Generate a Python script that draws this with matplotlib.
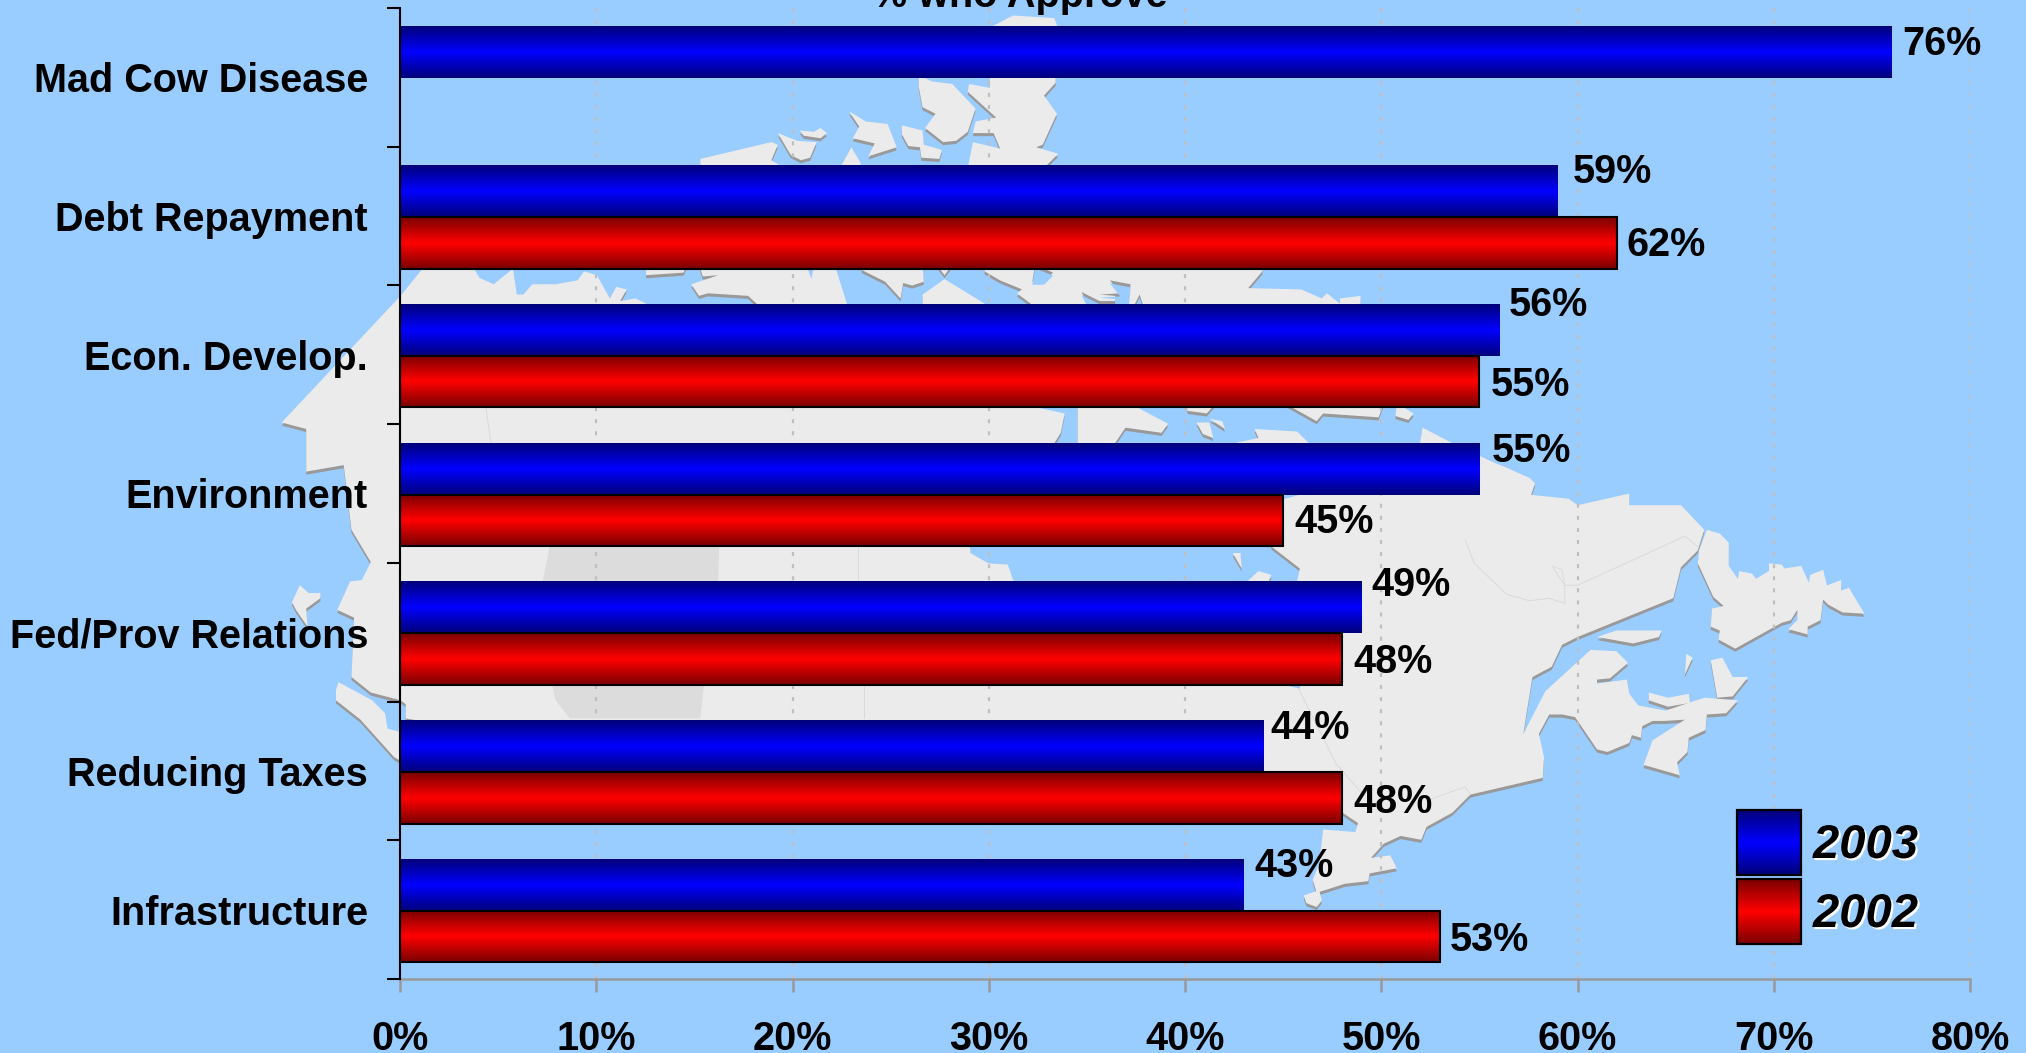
import matplotlib as mpl
mpl.use('Agg')
import matplotlib.pyplot as plt
import matplotlib.patheffects as pe
from matplotlib.colors import LinearSegmentedColormap
from matplotlib.patches import Polygon, Rectangle
import numpy as np

plt.rcParams['font.family'] = ['Liberation Sans', 'DejaVu Sans']
plt.rcParams['font.weight'] = 'bold'
plt.rcParams['lines.scale_dashes'] = False

categories = ['Mad Cow Disease', 'Debt Repayment', 'Econ. Develop.', 'Environment',
              'Fed/Prov Relations', 'Reducing Taxes', 'Infrastructure']
approve_2003 = [76, 59, 56, 55, 49, 44, 43]
approve_2002 = [np.nan, 62, 55, 45, 48, 48, 53]
x_ticks = [0, 10, 20, 30, 40, 50, 60, 70, 80]

# hand placed data labels, pixels from the bar end / bar centre
nudge_2003 = [(11, 9), (15, 19), (10, 25), (12, 18), (10, 23), (7, 18), (10, 19)]
nudge_2002 = [None, (10, -2), (11, -3), (11, -2), (11, -3), (11, -4), (10, -3)]

BG = '#99CCFF'
LAND = '#EBEBEB'
SHADOW = '#999999'

# background map, traced in a 1568 wide frame
mainland = [(310, 229), (327, 208), (367, 208), (371, 215), (382, 220), (397, 208), (400, 228), (405, 228),
            (412, 220), (430, 220), (447, 217), (452, 210), (462, 213), (472, 231), (477, 222), (485, 224),
            (480, 233), (492, 231), (502, 236), (502, 245), (790, 245), (801, 315), (824, 320), (821, 335),
            (816, 343), (790, 400), (750, 415), (751, 428), (765, 436), (780, 437), (784, 449), (900, 500),
            (989, 529), (1006, 533), (1004, 449), (1006, 440), (984, 423), (980, 390), (1090, 360), (1099, 343),
            (1101, 331), (1124, 343), (1154, 357), (1166, 362), (1184, 370), (1188, 374), (1185, 383), (1214, 386),
            (1221, 391), (1261, 382), (1261, 391), (1301, 391), (1319, 410), (1314, 426), (1301, 439), (1295, 463),
            (1221, 493), (1209, 499), (1201, 516), (1186, 524), (1181, 555), (1179, 568), (1196, 535), (1231, 503),
            (1251, 504), (1260, 513), (1246, 525), (1236, 526), (1236, 529), (1259, 526), (1261, 537), (1268, 546),
            (1289, 550), (1319, 540), (1345, 542), (1336, 552), (1321, 553), (1320, 565), (1307, 571), (1306, 582),
            (1298, 590), (1300, 600), (1272, 592), (1279, 573), (1304, 557), (1288, 558), (1279, 558), (1271, 562),
            (1270, 571), (1263, 569), (1261, 575), (1244, 582), (1236, 580), (1219, 555), (1209, 553), (1199, 553),
            (1191, 568), (1195, 586), (1194, 602), (1138, 615), (1124, 629), (1104, 640), (1100, 650), (1084, 647),
            (1071, 653), (1061, 664), (1076, 662), (1081, 672), (1060, 676), (1059, 682), (1041, 684), (1019, 691),
            (1016, 681), (1021, 668), (1024, 642), (1049, 644), (1051, 637), (1039, 629), (1000, 610), (800, 590),
            (500, 590), (314, 556), (314, 545), (310, 542), (287, 536), (272, 524), (274, 478), (261, 472),
            (271, 450), (280, 449), (287, 435), (272, 410), (266, 360), (237, 365), (237, 332), (218, 327)]
islands = [
    [(765, 22), (784, 12), (816, 14), (819, 22)],
    [(749, 71), (750, 65), (766, 68), (766, 58), (817, 58), (817, 64), (808, 74), (818, 88), (807, 112), (802, 114),
     (819, 119), (809, 129), (749, 130), (753, 110), (774, 115), (769, 103), (753, 103), (755, 94), (771, 91)],
    [(711, 58), (721, 63), (737, 65), (755, 84), (749, 102), (740, 109), (730, 110), (716, 99), (724, 88), (714, 83),
     (711, 67)],
    [(657, 86), (670, 94), (687, 96), (694, 114), (672, 121), (677, 111), (660, 107), (665, 98)],
    [(698, 97), (714, 101), (715, 112), (729, 116), (727, 123), (713, 122), (712, 114), (703, 113), (698, 104)],
    [(602, 103), (617, 109), (632, 110), (627, 122), (620, 124), (612, 120)],
    [(619, 101), (630, 102), (635, 99), (640, 103), (635, 107), (622, 105)],
    [(542, 123), (597, 110), (602, 112), (597, 124), (607, 130), (542, 130)],
    [(650, 130), (659, 114), (666, 126), (666, 130)],
    [(500, 205), (532, 205), (529, 211), (500, 213)],
    [(541, 205), (544, 214), (556, 213), (535, 220), (541, 229), (548, 227), (579, 229), (591, 240), (657, 240),
     (646, 205), (630, 205), (628, 216), (624, 205)],
    [(667, 205), (667, 209), (685, 218), (697, 231), (699, 219), (706, 221), (715, 218), (714, 205)],
    [(725, 205), (731, 213), (737, 205)],
    [(714, 240), (714, 228), (731, 216), (762, 235), (762, 240)],
    [(762, 205), (762, 210), (774, 217), (791, 224), (787, 227), (799, 236), (800, 240), (1053, 240), (1053, 229),
     (1037, 231), (1037, 235), (1027, 227), (1023, 231), (1007, 224), (966, 223), (977, 210), (977, 205)],
    [(834, 312), (874, 312), (904, 328), (899, 335), (871, 331), (861, 346), (834, 346)],
    [(919, 312), (941, 312), (934, 320), (919, 318)],
    [(926, 327), (936, 327), (939, 339), (931, 336)],
    [(936, 324), (946, 326), (948, 332)],
    [(994, 312), (1071, 312), (1067, 323), (1024, 320), (1019, 326)],
    [(1081, 312), (1094, 320), (1090, 325), (1080, 322)],
    [(941, 346), (974, 339), (971, 332), (1004, 334), (1016, 346)],
    [(954, 428), (960, 428), (961, 440)],
    [(963, 452), (974, 442), (984, 445), (981, 452)],
    [(1321, 410), (1331, 413), (1338, 420), (1338, 438), (1345, 448), (1346, 442), (1356, 444), (1359, 448),
     (1369, 442), (1369, 436), (1379, 437), (1381, 440), (1394, 438), (1400, 451), (1401, 445), (1411, 441),
     (1414, 453), (1425, 449), (1425, 457), (1431, 455), (1443, 475), (1426, 474), (1415, 468), (1411, 464),
     (1409, 480), (1399, 485), (1399, 491), (1384, 487), (1391, 480), (1391, 472), (1386, 480), (1379, 482),
     (1343, 502), (1330, 495), (1331, 488), (1324, 485), (1325, 471), (1334, 469), (1326, 462), (1314, 436),
     (1315, 426)],
    [(1236, 493), (1251, 488), (1286, 488), (1284, 493), (1264, 498)],
    [(1305, 506), (1310, 509), (1304, 522)],
    [(1324, 511), (1333, 509), (1341, 524), (1353, 524), (1341, 539), (1329, 540)],
    [(1276, 536), (1291, 540), (1307, 537), (1308, 544), (1291, 547), (1276, 542)],
    [(1009, 693), (1021, 689), (1023, 697), (1019, 702), (1011, 699)],
    [(232, 453), (239, 459), (248, 459), (248, 463), (237, 471), (238, 485), (229, 472), (226, 466)],
    [(262, 528), (288, 542), (298, 552), (300, 564), (312, 567), (312, 590), (305, 586), (279, 557), (260, 542),
     (260, 534)],
]
# inlets cut back out of the north shore
inlets = [
    [(801, 205), (815, 211), (808, 218), (799, 218)],
    [(859, 217), (875, 220), (873, 240), (844, 240), (837, 226), (851, 233), (863, 233), (863, 229), (851, 228),
     (867, 227)],
    [(876, 240), (882, 228), (886, 240)],
]
prairie = [(430, 400), (420, 450), (427, 529), (430, 542), (441, 556), (542, 556), (545, 529), (556, 450), (557, 400)]
borders = [
    [(376, 315), (380, 343)], [(664, 422), (664, 450)], [(669, 529), (669, 556)],
    [(1134, 418), (1141, 436), (1166, 460), (1184, 465), (1199, 463), (1211, 467), (1211, 453), (1201, 438),
     (1209, 441), (1211, 453), (1221, 453), (1304, 415), (1314, 423)],
    [(1005, 533), (1034, 591), (1054, 614)], [(1106, 619), (1134, 609), (1138, 615)],
]

fig = plt.figure(figsize=(20.26, 10.53), dpi=100, facecolor=BG)

bg = fig.add_axes([0, 0, 1, 1])
bg.set_xlim(0, 1568)
bg.set_ylim(815, 0)
bg.axis('off')
for poly in [mainland] + islands:
    pts = np.array(poly, dtype=float)
    bg.add_patch(Polygon(pts + [0, 2.4], closed=True, fc=SHADOW, ec='none', zorder=1))
for poly in [mainland] + islands:
    bg.add_patch(Polygon(poly, closed=True, fc=LAND, ec='none', zorder=2))
for poly in inlets:
    pts = np.array(poly, dtype=float)
    bg.add_patch(Polygon(pts, closed=True, fc=SHADOW, ec='none', zorder=2.1))
    bg.add_patch(Polygon(pts + [0, 2.4], closed=True, fc=BG, ec='none', zorder=2.2))
bg.add_patch(Polygon(prairie, closed=True, fc='#DCDCDC', ec='none', zorder=3))
for line in borders:
    bg.plot(*zip(*line), color='#DADADA', lw=0.7, zorder=3)

ax = fig.add_axes([400 / 2026, 1 - 979 / 1053, 1570 / 2026, 971 / 1053])
ax.patch.set_visible(False)
ax.set_axisbelow(True)

blue_map = LinearSegmentedColormap.from_list('blue_bar', ['#0000FF', '#00007A'])
red_map = LinearSegmentedColormap.from_list('red_bar', ['#FF0000', '#7A0000'])
shade = np.abs(np.linspace(-1, 1, 128)).reshape(-1, 1)

centers = np.arange(len(categories)) + 0.5
bar_mid = centers + 0.008
bar_h = 0.372
bars_2003 = ax.barh(bar_mid, approve_2003, height=-bar_h, align='edge', facecolor='none', edgecolor='none', zorder=4)
bars_2002 = ax.barh(bar_mid, approve_2002, height=bar_h, align='edge', facecolor='none', edgecolor='black',
                    linewidth=1.5, zorder=4)


def fill_bars(bars, cmap):
    for bar in bars:
        w = bar.get_width()
        if np.isnan(w):
            continue
        y0, y1 = sorted([bar.get_y(), bar.get_y() + bar.get_height()])
        ax.imshow(shade, extent=[0, w, y1, y0], cmap=cmap, aspect='auto', zorder=3, vmin=0, vmax=1)


fill_bars(bars_2003, blue_map)
fill_bars(bars_2002, red_map)

for vals, nudges, side in [(approve_2003, nudge_2003, -bar_h / 2), (approve_2002, nudge_2002, bar_h / 2)]:
    for i, v in enumerate(vals):
        if np.isnan(v):
            continue
        ax.annotate(f'{v}%', xy=(v, bar_mid[i] + side), xytext=nudges[i], textcoords='offset pixels',
                    ha='left', va='center', fontsize=28.5, fontweight='bold', color='black', zorder=6)

ax.set_xlim(0, 80)
ax.set_ylim(len(categories), 0)
ax.set_xticks(x_ticks)
ax.set_xticklabels([f'{t}%' for t in x_ticks], fontsize=28.5, fontweight='bold')
ax.set_yticks(np.arange(len(categories) + 1))
ax.set_yticklabels([])
ax.set_yticks(centers, categories, minor=True, fontsize=28.5, fontweight='bold')
ax.tick_params(axis='y', which='major', length=9.4, width=1.5, color='black')
ax.tick_params(axis='y', which='minor', length=0, pad=23)
ax.tick_params(axis='x', length=9.4, width=1.8, color=SHADOW, pad=20)
ax.xaxis.grid(True, color='#BFBFBF', lw=1.6, linestyle=(0, (2.9, 5.8)))

ax.spines['top'].set_visible(False)
ax.spines['right'].set_visible(False)
ax.spines['left'].set_color('black')
ax.spines['left'].set_linewidth(1.5)
ax.spines['left'].set_zorder(5)
ax.spines['bottom'].set_color(SHADOW)
ax.spines['bottom'].set_linewidth(1.8)

fig.text(1020 / 2026, 1 - 7 / 1053, '% who Approve', ha='center', va='baseline', fontsize=28.5, fontweight='bold')

# legend on its own pixel axes, the swatches use the same gradient as the bars
key = fig.add_axes([0, 0, 1, 1])
key.patch.set_visible(False)
key.axis('off')
for top, cmap, year in [(810, blue_map, '2003'), (879, red_map, '2002')]:
    key.imshow(shade, extent=[1737, 1801, top + 65, top], cmap=cmap, aspect='auto', vmin=0, vmax=1, zorder=1)
    key.add_patch(Rectangle((1737, top), 64, 65, fc='none', ec='black', lw=1.6, zorder=2))
    key.text(1813, top + 36, year, fontsize=34, fontweight='bold', fontstyle='italic', ha='left', va='center',
             zorder=3, path_effects=[pe.withSimplePatchShadow(offset=(1.5, -1.5), shadow_rgbFace='white', alpha=1)])
key.set_xlim(0, 2026)
key.set_ylim(1053, 0)

fig.savefig('out.png', dpi=100, facecolor=BG)
